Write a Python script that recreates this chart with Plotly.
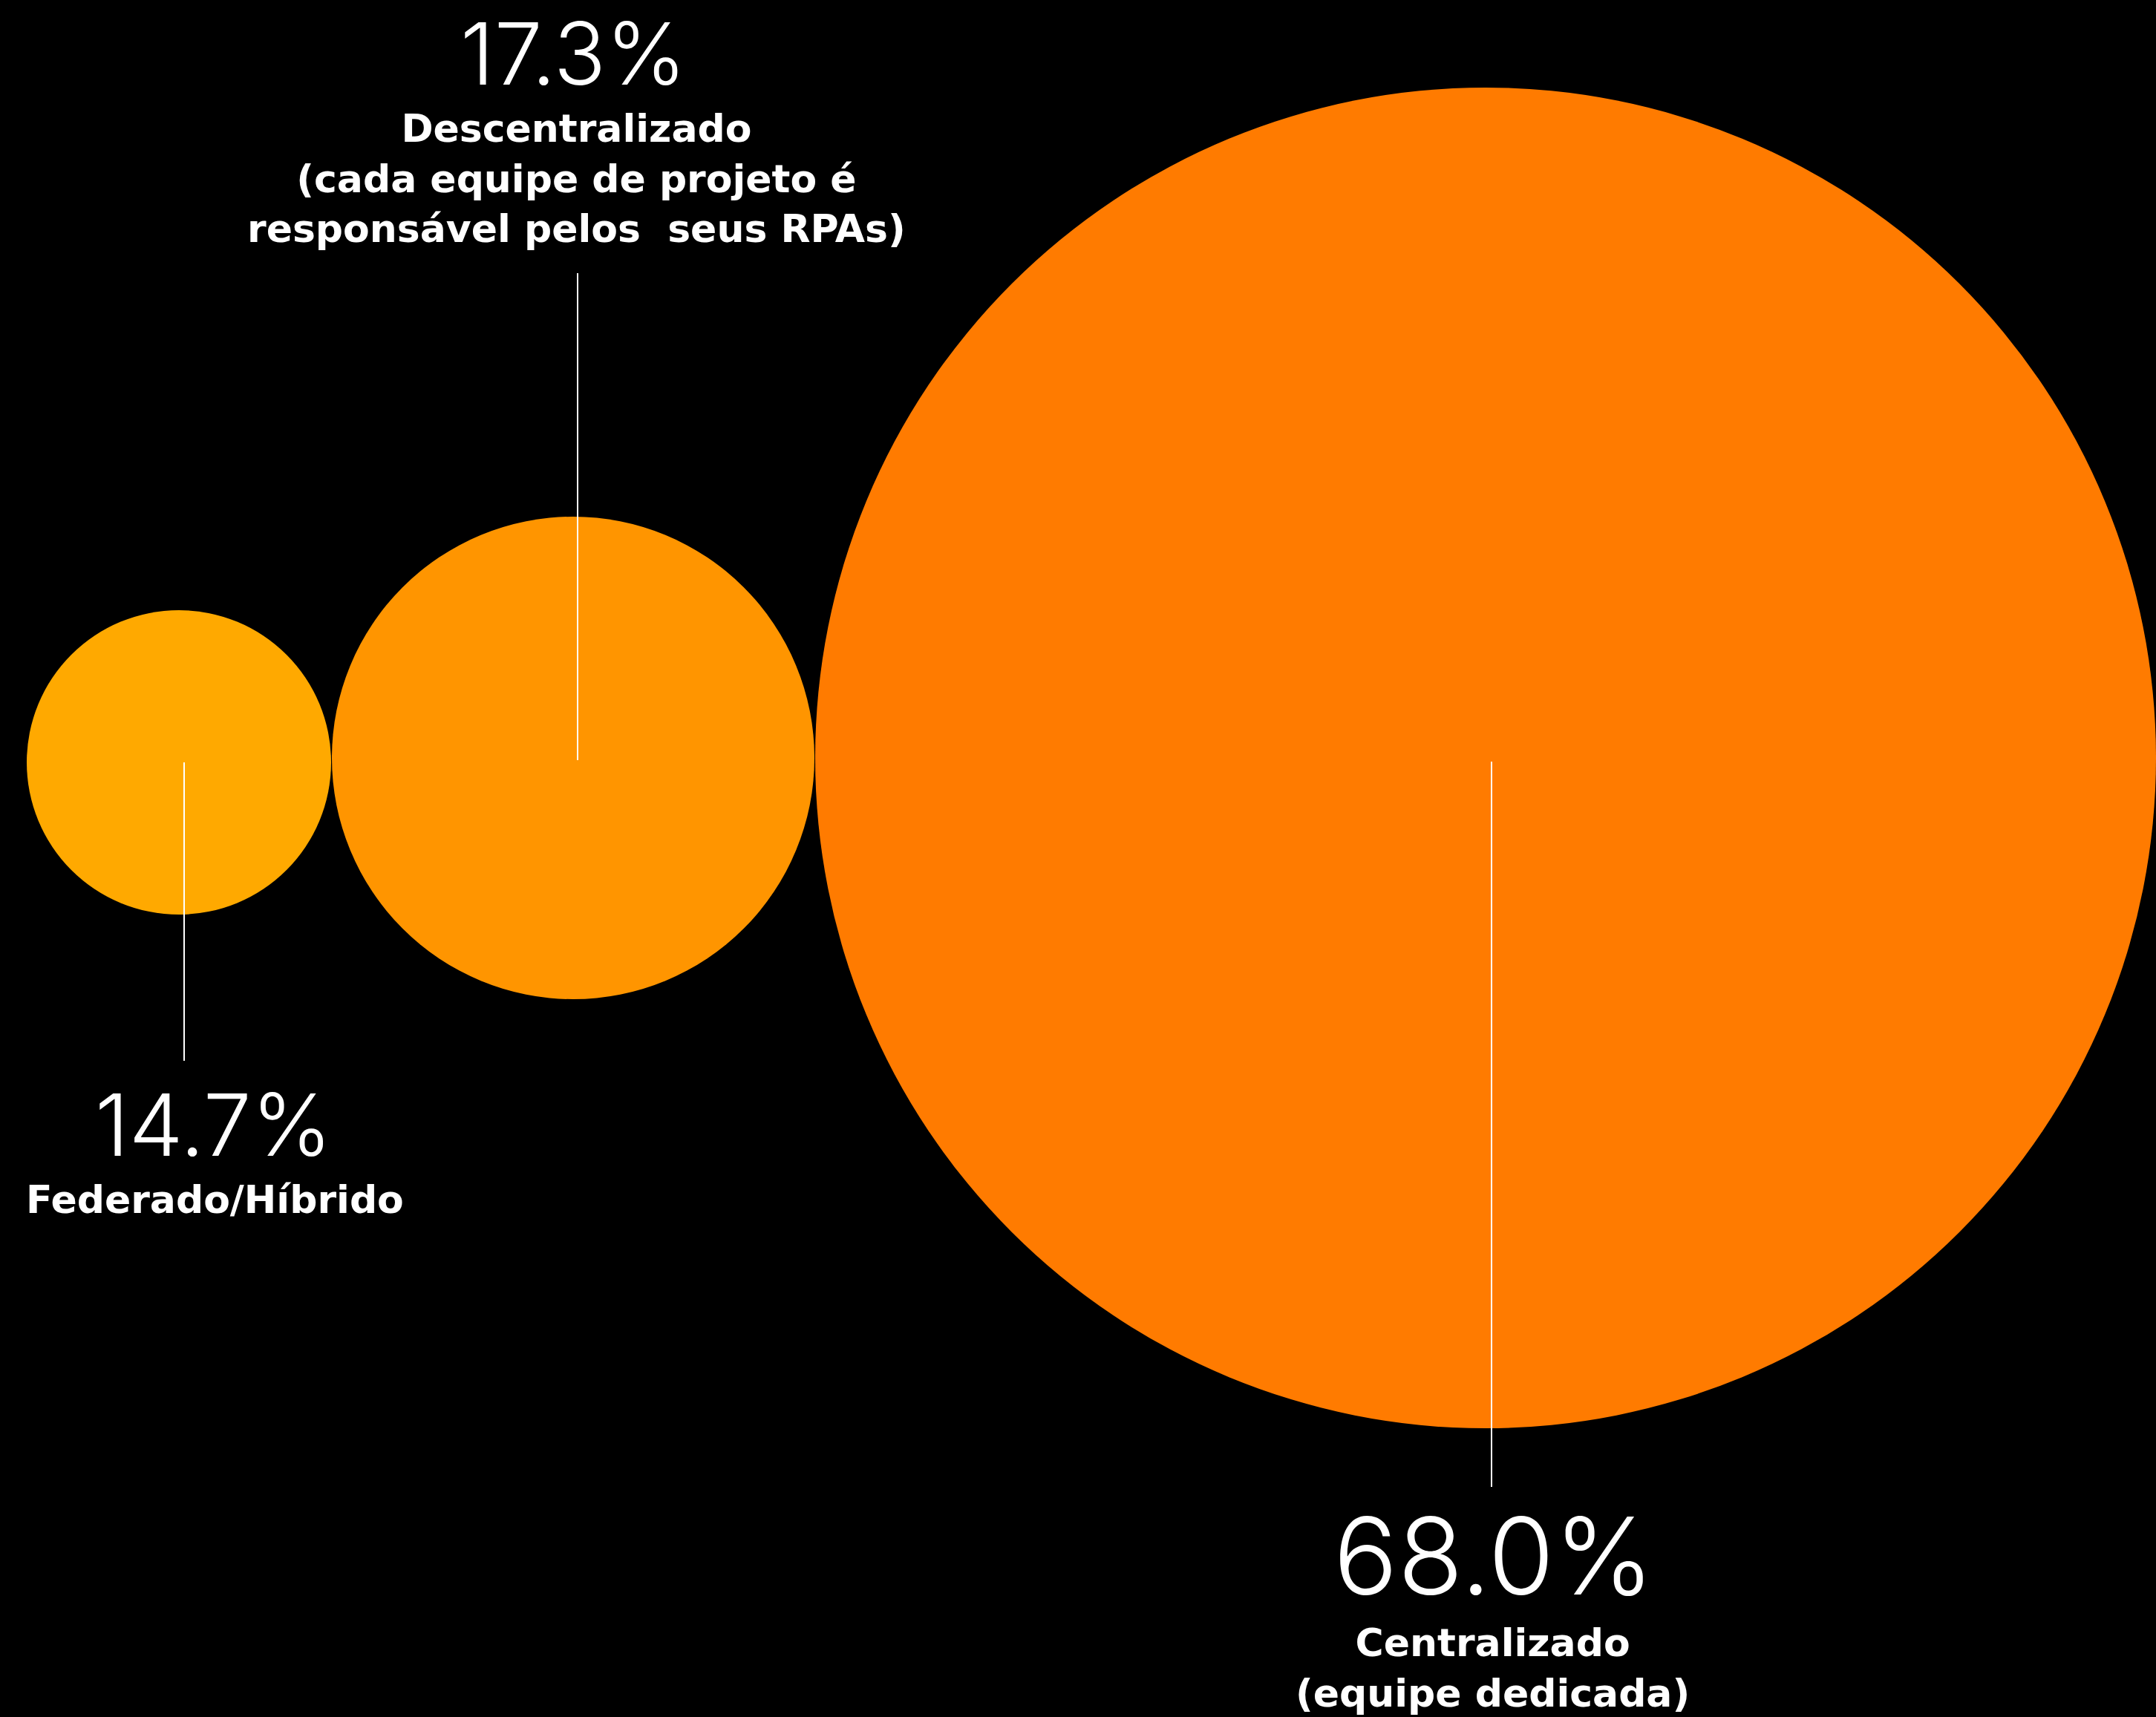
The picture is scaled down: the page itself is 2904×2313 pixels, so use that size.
import plotly.graph_objects as go

# Share of respondents by RPA operating model
categories = [
    "Federado/Híbrido",
    "Descentralizado<br>(cada equipe de projeto é<br>responsável pelos  seus RPAs)",
    "Centralizado<br>(equipe dedicada)",
]
values = [14.7, 17.3, 68.0]
colors = ["#FFA900", "#FF9500", "#FF7B00"]

# Canvas and bubble layout (pixel-space axes)
W, H = 2904, 2313
bubble_x = [241, 772, 2001]
bubble_y = [1027, 1021, 1021]
bubble_d = [410, 650, 1806]

# Leader lines: x, from-y, to-y
leader_x = [248, 778, 2009]
leader_y0 = [1027, 368, 1026]
leader_y1 = [1429, 1024, 2003]

# Percentage labels: centre x, top y, font size
value_pos = [(287, 1445, 116), (772, 2, 116), (2012, 2008, 144)]
# Category labels: centre x, top y
name_pos = [(289, 1586), (776, 143), (2010, 2183)]

VALUE_FONT = "Inter, Roboto, sans-serif"
NAME_FONT = "DejaVu Sans, sans-serif"
NAME_SIZE = 52

fig = go.Figure()

fig.add_trace(go.Scatter(
    x=bubble_x, y=bubble_y, mode="markers",
    marker=dict(size=bubble_d, color=colors, opacity=1, line=dict(width=0)),
    hoverinfo="skip", showlegend=False,
))

for lx, y0, y1 in zip(leader_x, leader_y0, leader_y1):
    fig.add_trace(go.Scatter(
        x=[lx, lx], y=[y0, y1], mode="lines",
        line=dict(color="white", width=2),
        hoverinfo="skip", showlegend=False,
    ))

for v, (vx, vy, vs) in zip(values, value_pos):
    fig.add_annotation(
        x=vx, y=vy, xref="x", yref="y", text=f"{v:.1f}%", showarrow=False,
        xanchor="center", yanchor="top", borderpad=0, borderwidth=0,
        font=dict(family=VALUE_FONT, size=vs, color="white", weight=300),
    )

for name, (nx, ny) in zip(categories, name_pos):
    fig.add_annotation(
        x=nx, y=ny, xref="x", yref="y", text=name, showarrow=False,
        xanchor="center", yanchor="top", align="center", borderpad=0, borderwidth=0,
        font=dict(family=NAME_FONT, size=NAME_SIZE, color="white", weight="bold"),
    )

fig.update_layout(
    width=W, height=H,
    margin=dict(l=0, r=0, t=0, b=0),
    paper_bgcolor="black", plot_bgcolor="black",
    xaxis=dict(range=[0, W], visible=False, fixedrange=True),
    yaxis=dict(range=[H, 0], visible=False, fixedrange=True),
    showlegend=False,
)

fig.write_html("out.html")
